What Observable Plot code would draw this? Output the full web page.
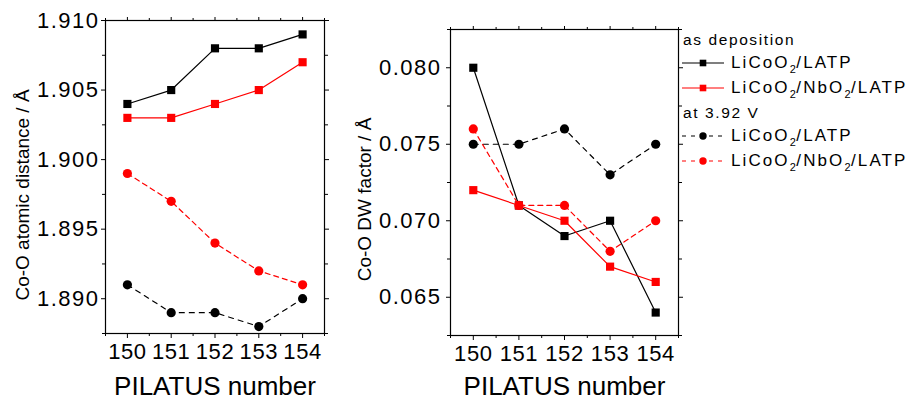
<!DOCTYPE html>
<html>
<head>
<meta charset="utf-8">
<script src="https://cdn.jsdelivr.net/npm/d3@7"></script>
<script src="https://cdn.jsdelivr.net/npm/@observablehq/plot@0.6"></script>
<style>
  html, body { margin: 0; padding: 0; background: #fff; }
  #wrap { position: relative; width: 914px; height: 401px; overflow: hidden; background: #fff;
          font-family: "Liberation Sans", Arial, sans-serif; color: #000; }
  #left, #right, #legend { position: absolute; top: 0; }
  #left { left: 0; }
  #right { left: 340px; }
  #legend { left: 682px; top: 0; width: 232px; height: 200px; }
  .row { position: absolute; left: 0; height: 20px; line-height: 20px; white-space: nowrap; }
  .row.head { font-size: 15.5px; letter-spacing: 1.6px; left: 1px; }
  .row.item { font-size: 17px; letter-spacing: 2.1px; }
  .row svg { vertical-align: middle; margin-right: 7px; position: relative; top: -1px; }
  .row sub { font-size: 11px; vertical-align: -5px; line-height: 0; letter-spacing: 0.5px; }
  svg text { font-family: "Liberation Sans", Arial, sans-serif; }
  g[aria-label="y-axis tick label"] { letter-spacing: 1.5px; }
  g[aria-label="x-axis tick label"] { letter-spacing: 0.6px; }
</style>
</head>
<body>
<div id="wrap">
  <div id="left"></div>
  <div id="right"></div>
  <div id="legend"></div>
</div>
<script>
// ---- data ----
const pilatus = [150, 151, 152, 153, 154];
const pilatusMinor = [149.5, 150.5, 151.5, 152.5, 153.5, 154.5];

const groupLabels = ["as deposition", "at 3.92 V"];
const sampleLabels = ["LiCoO2/LATP", "LiCoO2/NbO2/LATP"];

// Co-O atomic distance (Å)
const distAsDepLATP   = [1.904, 1.905, 1.908, 1.908, 1.909];
const distAsDepNbO2   = [1.903, 1.903, 1.904, 1.905, 1.907];
const dist392LATP     = [1.891, 1.889, 1.889, 1.888, 1.890];
const dist392NbO2     = [1.899, 1.897, 1.894, 1.892, 1.891];

// Co-O DW factor (Å)
const dwAsDepLATP = [0.080, 0.071, 0.069, 0.070, 0.064];
const dwAsDepNbO2 = [0.072, 0.071, 0.070, 0.067, 0.066];
const dw392LATP   = [0.075, 0.075, 0.076, 0.073, 0.075];
const dw392NbO2   = [0.076, 0.071, 0.071, 0.068, 0.070];

const distTicks      = [1.890, 1.895, 1.900, 1.905, 1.910];
const distMinorTicks = [1.8875, 1.8925, 1.8975, 1.9025, 1.9075];
const dwTicks        = [0.065, 0.070, 0.075, 0.080];
const dwMinorTicks   = [0.0625, 0.0675, 0.0725, 0.0775, 0.0825];

// ---- styles ----
const seriesStyle = [
  {group: 0, sample: 0, color: "#000000", dash: null,  symbol: "square"},
  {group: 0, sample: 1, color: "#ff0000", dash: null,  symbol: "square"},
  {group: 1, sample: 0, color: "#000000", dash: "5,5", symbol: "circle"},
  {group: 1, sample: 1, color: "#ff0000", dash: "5,4", symbol: "circle"}
];

function toRows(valueLists) {
  return valueLists.map((vals, i) => pilatus.map((x, j) => ({x, y: vals[j], s: i})));
}

function panel(o) {
  const series = toRows(o.values);
  const marks = [
    Plot.frame({stroke: "#000", strokeWidth: 1.2}),
    Plot.axisX(pilatus, {tickSize: 5, tickPadding: 5, fontSize: 22, label: null, tickFormat: d => String(d)}),
    Plot.axisX(pilatusMinor, {tickSize: 3, label: null, tickFormat: () => ""}),
    Plot.axisX(pilatus, {anchor: "top", tickSize: 4, label: null, tickFormat: () => ""}),
    Plot.axisX(pilatusMinor, {anchor: "top", tickSize: 3, label: null, tickFormat: () => ""}),
    Plot.axisY(o.ticks, {tickSize: 4, tickPadding: o.tickPadding, fontSize: 22, label: null, tickFormat: d3.format(".3f")}),
    Plot.axisY(o.minor, {tickSize: 3, label: null, tickFormat: () => ""}),
    Plot.axisY(o.ticks, {anchor: "right", tickSize: 4, label: null, tickFormat: () => ""}),
    Plot.axisY(o.minor, {anchor: "right", tickSize: 3, label: null, tickFormat: () => ""})
  ];
  series.forEach((rows, i) => {
    const st = seriesStyle[i];
    marks.push(Plot.line(rows, {x: "x", y: "y", stroke: st.color, strokeWidth: 1.2, strokeDasharray: st.dash}));
    marks.push(Plot.dot(rows, {x: "x", y: "y", symbol: st.symbol, r: 4.6, fill: st.color, stroke: null}));
  });
  marks.push(Plot.text([o.ylabel], {text: d => d, frameAnchor: "left", textAnchor: "middle", rotate: -90,
    dx: o.ylabelDx, dy: o.ylabelDy, lineAnchor: "bottom", fontSize: 19}));
  marks.push(Plot.text(["PILATUS number"], {text: d => d, frameAnchor: "bottom", textAnchor: "middle", dy: o.xlabelDy,
    lineAnchor: "bottom", fontSize: 26}));
  return Plot.plot({
    width: o.width, height: 401,
    marginLeft: o.marginLeft, marginRight: o.marginRight, marginTop: o.marginTop, marginBottom: o.marginBottom,
    style: {background: "transparent", color: "#000", fontFamily: "Liberation Sans, Arial, sans-serif"},
    x: {domain: [149.5, 154.5]},
    y: {domain: o.domain},
    marks
  });
}

document.getElementById("left").appendChild(panel({
  width: 340, marginLeft: 105, marginRight: 16, marginTop: 20, marginBottom: 68,
  domain: [1.8875, 1.910], ticks: distTicks, minor: distMinorTicks, tickPadding: 2,
  values: [distAsDepLATP, distAsDepNbO2, dist392LATP, dist392NbO2],
  ylabel: "Co-O atomic distance / Å", ylabelDx: -77, ylabelDy: 18, xlabelDy: 61
}));

document.getElementById("right").appendChild(panel({
  width: 346, marginLeft: 110, marginRight: 8, marginTop: 29, marginBottom: 66,
  domain: [0.0625, 0.0825], ticks: dwTicks, minor: dwMinorTicks, tickPadding: 5,
  values: [dwAsDepLATP, dwAsDepNbO2, dw392LATP, dw392NbO2],
  ylabel: "Co-O DW factor / Å", ylabelDx: -80, ylabelDy: 17, xlabelDy: 59
}));

// ---- legend ----
function sampleHTML(label) {
  return label.replace(/O2/g, "O<sub>2</sub>");
}
function swatch(st) {
  const w = 42, h = 12, c = st.color;
  const line = st.dash
    ? `<line x1="0" y1="6" x2="${w}" y2="6" stroke="${c}" stroke-width="1.2" stroke-dasharray="4,5"/>`
    : `<line x1="0" y1="6" x2="${w}" y2="6" stroke="${c}" stroke-width="1.2"/>`;
  const mark = st.symbol === "square"
    ? `<rect x="${w/2-3.3}" y="2.7" width="6.6" height="6.6" fill="${c}"/>`
    : `<circle cx="${w/2}" cy="6" r="3.7" fill="${c}"/>`;
  return `<svg width="${w}" height="${h}">${line}${mark}</svg>`;
}
const legend = document.getElementById("legend");
const rowTops = [30, 53, 78, 103, 126, 151];
let k = 0;
groupLabels.forEach((g, gi) => {
  const head = document.createElement("div");
  head.className = "row head";
  head.style.top = rowTops[k++] + "px";
  head.textContent = g;
  legend.appendChild(head);
  seriesStyle.filter(s => s.group === gi).forEach(st => {
    const r = document.createElement("div");
    r.className = "row item";
    r.style.top = rowTops[k++] + "px";
    r.innerHTML = swatch(st) + sampleHTML(sampleLabels[st.sample]);
    legend.appendChild(r);
  });
});
</script>
</body>
</html>
